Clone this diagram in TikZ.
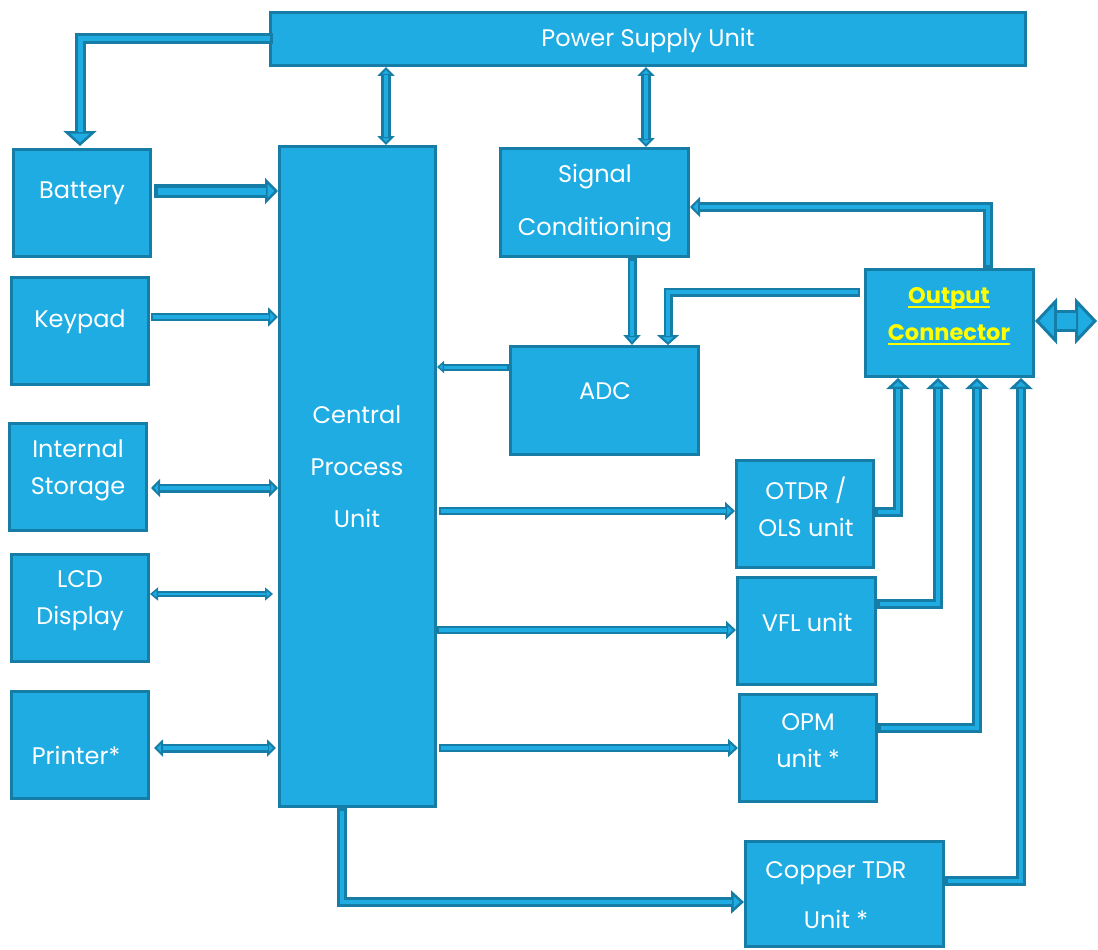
\documentclass[tikz,border=0pt]{standalone}
\usepackage{fontspec}
\setmainfont{Poppins}
\usetikzlibrary{arrows.meta,calc}
\definecolor{lt}{RGB}{30,172,226}
\definecolor{dk}{RGB}{22,125,167}
\definecolor{yl}{RGB}{255,255,0}
\newcommand\ulx[1]{\leavevmode\setbox0=\hbox{#1}\rlap{\vrule width\wd0 height -3pt depth 5pt}\box0}
% single-headed block arrow: shaft width, inner width, head width, head length, head stroke, path
\newcommand\SA[6]{%
  \draw[dk, line width=#1pt, -{Triangle[width=#3pt, length=#4pt, fill=lt, line width=#5pt 0]}] #6;
  \draw[lt, line width=#2pt, shorten <={(#1-#2)/2*1pt}, shorten >={(#4-0.5)*1pt}] #6;}
% double-headed block arrow
\newcommand\DA[6]{%
  \draw[dk, line width=#1pt, {Triangle[width=#3pt, length=#4pt, fill=lt, line width=#5pt 0]}-{Triangle[width=#3pt, length=#4pt, fill=lt, line width=#5pt 0]}] #6;
  \draw[lt, line width=#2pt, shorten <={(#4-0.5)*1pt}, shorten >={(#4-0.5)*1pt}] #6;}
\tikzset{
  box/.style={draw=dk, fill=lt, line width=3pt, inner sep=0pt},
  txt/.style={text=white, align=center, inner sep=0pt, font=\fontsize{24}{37}\selectfont},
}
\begin{document}
\begin{tikzpicture}[x=1pt, y=-1pt]
\useasboundingbox (0,0) rectangle (1098,950);
% boxes
\node[box, minimum width=755pt, minimum height=53pt] (psu) at (648,39) {};
\node[box, minimum width=137pt, minimum height=107pt] (batt) at (82,203) {};
\node[box, minimum width=137pt, minimum height=107pt] (key) at (80,331) {};
\node[box, minimum width=137pt, minimum height=107pt] (stor) at (78,477) {};
\node[box, minimum width=137pt, minimum height=107pt] (lcd) at (80,608) {};
\node[box, minimum width=137pt, minimum height=107pt] (prn) at (80,745) {};
\node[box, minimum width=156pt, minimum height=660pt] (cpu) at (357.5,476.5) {};
\node[box, minimum width=188pt, minimum height=108pt] (sc) at (594.5,202.5) {};
\node[box, minimum width=188pt, minimum height=108pt] (adc) at (604.5,400.5) {};
\node[box, minimum width=168pt, minimum height=107pt] (oc) at (949.5,323) {};
\node[box, minimum width=137pt, minimum height=107pt] (otdr) at (805,514) {};
\node[box, minimum width=138pt, minimum height=107pt] (vfl) at (806.5,631) {};
\node[box, minimum width=137pt, minimum height=107pt] (opm) at (808,748) {};
\node[box, minimum width=198pt, minimum height=105pt] (tdr) at (844.5,894) {};
% texts
\node[txt] (psu-t) at (648,40) {Power Supply Unit};
\node[txt] (batt-t) at (82,193) {Battery};
\node[txt] (key-t) at (80,322) {Keypad};
\node[txt] (stor-t) at (78,470) {Internal\\Storage};
\node[txt] (lcd-t) at (80,601) {LCD\\Display};
\node[txt] (prn-t) at (76,755) {Printer*};
\node[txt, font=\fontsize{24}{52}\selectfont] (cpu-t) at (357,467) {Central\\Process\\Unit};
\node[txt, font=\fontsize{24}{53}\selectfont] (sc-t) at (595,203) {Signal\\Conditioning};
\node[txt] (adc-t) at (605,391) {ADC};
\node[txt, text=yl, font=\fontsize{22.5}{37}\selectfont\bfseries] (oc-t) at (949,316) {\ulx{Output}\\\ulx{Connector}};
\node[txt] (otdr-t) at (806,507) {OTDR /\\OLS unit};
\node[txt] (vfl-t) at (807,622) {VFL unit};
\node[txt] (opm-t) at (808,741) {OPM\\unit *};
\node[txt, font=\fontsize{24}{50}\selectfont] (tdr-t) at (836,895) {Copper TDR\\Unit *};
\coordinate (bigend) at (1097,321);
% arrows
\SA{11}{5}{33}{15}{2.5}{($(psu.west)+(4,0)$) -| ($(batt.north)+(-2,-2)$)}
\SA{14}{7}{26}{13}{2.5}{($(batt.east |- 0,191)+(2,0)$) -- (cpu.west |- 0,191)}
\SA{8}{3.5}{19}{10}{2}{($(key.east |- 0,317)+(1,0)$) -- (cpu.west |- 0,317)}
\DA{9}{4}{18}{9}{2}{($(stor.east |- 0,488)+(3,0)$) -- (cpu.west |- 0,488)}
\DA{6}{2.5}{13}{8}{1.5}{(lcd.east |- 0,594) -- ($(cpu.west |- 0,594)+(-5,0)$)}
\DA{9}{4}{17}{9}{2}{($(prn.east |- 0,748)+(4,0)$) -- ($(cpu.west |- 0,748)+(-2,0)$)}
\DA{10}{4}{17}{9}{2}{(psu.south -| 386,0) -- (cpu.north -| 386,0)}
\DA{10}{4}{17}{9}{2}{(psu.south -| 646,0) -- (sc.north -| 646,0)}
\SA{10}{4.5}{20}{10}{2}{(oc.north -| 988,0) |- (sc.east |- 0,207)}
\SA{9}{4}{22}{10}{2}{($(oc.west |- 0,292)+(-4,0)$) -| (adc.north -| 668,0)}
\SA{9}{4}{17}{10}{2}{(sc.south -| 632,0) -- (adc.north -| 632,0)}
\SA{7}{3}{12}{7}{1.5}{(adc.west |- 0,367) -- (cpu.east |- 0,367)}
\SA{8}{3.5}{18}{10}{2}{($(cpu.east |- 0,511)+(2,0)$) -- (otdr.west |- 0,511)}
\SA{8}{3.5}{18}{10}{2}{(cpu.east |- 0,630) -- (vfl.west |- 0,630)}
\SA{8}{3.5}{18}{10}{2}{($(cpu.east |- 0,748)+(2,0)$) -- (opm.west |- 0,748)}
\SA{10}{4.5}{23}{13}{2.5}{(cpu.south -| 342,0) |- (tdr.west |- 0,902)}
\SA{10}{4.5}{23}{11}{2.5}{(otdr.east |- 0,512) -| (oc.south -| 898,0)}
\SA{10}{4.5}{23}{11}{2.5}{(vfl.east |- 0,604) -| (oc.south -| 938,0)}
\SA{10}{4.5}{23}{11}{2.5}{(opm.east |- 0,728) -| (oc.south -| 977,0)}
\SA{10}{4.5}{23}{11}{2.5}{(tdr.east |- 0,881) -| (oc.south -| 1021,0)}
\DA{22}{16}{46}{22}{3}{(oc.east |- 0,321) -- (bigend)}
\end{tikzpicture}
\end{document}
